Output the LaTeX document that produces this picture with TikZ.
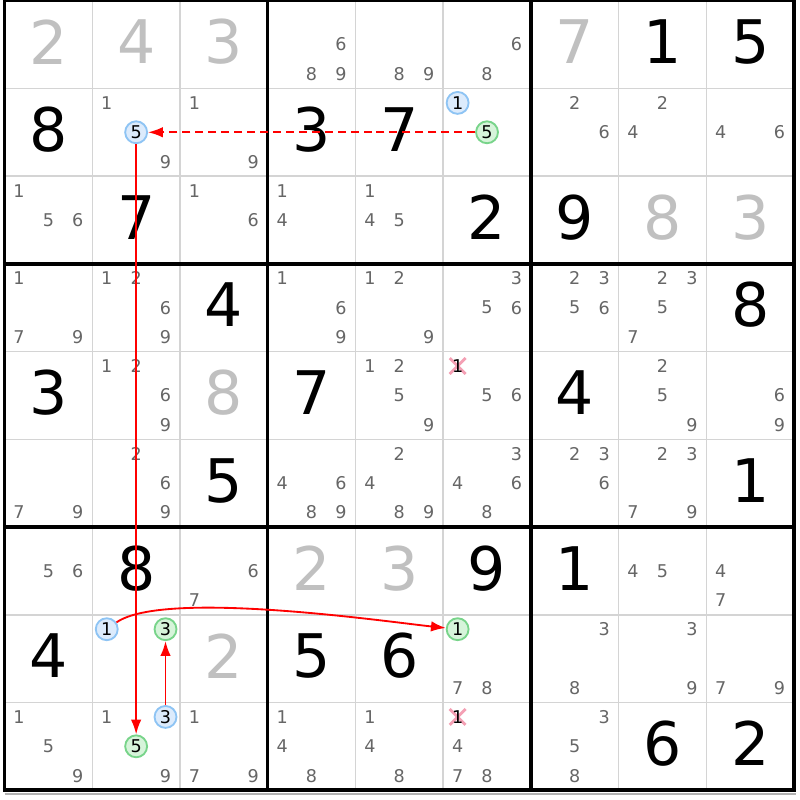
\documentclass[tikz,border=0pt]{standalone}
\usepackage{fontspec}
\setmainfont{DejaVu Sans}
\usepackage{xcolor}
\usepackage{tikz}
\usetikzlibrary{arrows}
\usetikzlibrary{arrows.meta}
\usetikzlibrary{shapes.misc}

\definecolor{candgray}{HTML}{666666}
\definecolor{cluegray}{HTML}{C0C0C0}
\definecolor{gridgray}{HTML}{D4D4D4}
\definecolor{bluefill}{HTML}{DCEBFC}
\definecolor{bluedraw}{HTML}{8EC4F4}
\definecolor{greenfill}{HTML}{D6F4DA}
\definecolor{greendraw}{HTML}{78D48A}
\definecolor{elimpink}{HTML}{F4A0B4}
\definecolor{linkred}{HTML}{FF0000}

\begin{document}
\begin{tikzpicture}
[
	cand/.style = {inner sep = 0cm, text = candgray, font = \fontsize{5.7}{6}\selectfont},
	solved/.style = {inner sep = 0cm, text = black, font = \fontsize{19.5}{20}\selectfont, yshift = 0.03cm},
	given/.style = {solved, text = cluegray},
	bluecand/.style = {circle, draw = bluedraw, fill = bluefill, line width = 0.6pt, minimum size = 0.25cm, inner sep = 0cm, text = black, font = \fontsize{5.7}{6}\selectfont},
	greencand/.style = {bluecand, draw = greendraw, fill = greenfill},
	gone/.style = {cross out, draw = elimpink, line width = 0.9pt, minimum size = 0.15cm, inner sep = 0cm},
	link/.style = {-{Latex[length = 4.8pt, width = 3.4pt]}, draw = linkred, line width = 0.6pt},
	minor/.style = {draw = gridgray, line width = 0.5pt},
	major/.style = {draw = black, line width = 1.1pt},
]

	% page
	\useasboundingbox [fill = white] (-0.052,-0.112) rectangle (9.068,9.008);

	% candidate spots, p<row><col><digit>
	\foreach \r in {1,...,9}
	\foreach \c in {1,...,9}
	\foreach \n in {1,...,9} {
		\pgfmathsetmacro\dx{(mod(\n-1,3)-1)*0.335}
		\pgfmathsetmacro\dy{(int((\n-1)/3)-1)*0.335}
		\coordinate (p\r\c\n) at ({\c-0.5+\dx},{9.5-\r-\dy});
	}

	% grid
	\foreach \i in {1,2,4,5,7,8} {
		\draw [minor] (\i,0) -- (\i,9);
		\draw [minor] (0,\i) -- (9,\i);
	}
	\draw [gray!60, line width = 0.6pt] (0,-0.04) -- (9.02,-0.04);
	\foreach \i in {0,3,6,9} {
		\draw [major] (\i,-0.019) -- (\i,9.019);
		\draw [major] (-0.019,\i) -- (9.019,\i);
	}

	% solved cells
	\foreach \r/\c/\d in {1/8/1, 1/9/5, 2/1/8, 2/4/3, 2/5/7, 3/2/7, 3/6/2, 3/7/9,
		4/3/4, 4/9/8, 5/1/3, 5/4/7, 5/7/4, 6/3/5, 6/9/1, 7/2/8, 7/6/9, 7/7/1,
		8/1/4, 8/4/5, 8/5/6, 9/8/6, 9/9/2}
		\node (s\r\c) [solved] at (p\r\c5) {\d};
	%
	\foreach \r/\c/\d in {1/1/2, 1/2/4, 1/3/3, 1/7/7, 3/8/8, 3/9/3, 5/3/8,
		7/4/2, 7/5/3, 8/3/2}
		\node (s\r\c) [given] at (p\r\c5) {\d};

	% pencil marks
	\foreach \r/\c/\cands in {1/4/{6,8,9}, 1/5/{8,9}, 1/6/{6,8},
		2/2/{1,9}, 2/3/{1,9}, 2/7/{2,6}, 2/8/{2,4}, 2/9/{4,6},
		3/1/{1,5,6}, 3/3/{1,6}, 3/4/{1,4}, 3/5/{1,4,5},
		4/1/{1,7,9}, 4/2/{1,2,6,9}, 4/4/{1,6,9}, 4/5/{1,2,9}, 4/6/{3,5,6}, 4/7/{2,3,5,6}, 4/8/{2,3,5,7},
		5/2/{1,2,6,9}, 5/5/{1,2,5,9}, 5/6/{5,6}, 5/8/{2,5,9}, 5/9/{6,9},
		6/1/{7,9}, 6/2/{2,6,9}, 6/4/{4,6,8,9}, 6/5/{2,4,8,9}, 6/6/{3,4,6,8}, 6/7/{2,3,6}, 6/8/{2,3,7,9},
		7/1/{5,6}, 7/3/{6,7}, 7/8/{4,5}, 7/9/{4,7},
		8/6/{7,8}, 8/7/{3,8}, 8/8/{3,9}, 8/9/{7,9},
		9/1/{1,5,9}, 9/2/{1,9}, 9/3/{1,7,9}, 9/4/{1,4,8}, 9/5/{1,4,8}, 9/6/{4,7,8}, 9/7/{3,5,8}}
		\foreach \n in \cands
			\node (n\r\c\n) [cand] at (p\r\c\n) {\n};

	% eliminations
	\node (x561) [gone] at (p561) {};
	\node (n561) [cand, text = black] at (p561) {1};
	\node (x961) [gone] at (p961) {};
	\node (n961) [cand, text = black] at (p961) {1};

	% chain
	\node (h225) [bluecand] at (p225) {5};
	\node (h261) [bluecand] at (p261) {1};
	\node (h265) [greencand] at (p265) {5};
	\node (h821) [bluecand] at (p821) {1};
	\node (h823) [greencand] at (p823) {3};
	\node (h861) [greencand] at (p861) {1};
	\node (h923) [bluecand] at (p923) {3};
	\node (h925) [greencand] at (p925) {5};

	\draw [link, dash pattern = on 2.6pt off 1.6pt] (h265) -- (h225);
	\draw [link] (h225) -- (h925);
	\draw [link] (h923) -- (h823);
	\draw [link, out = 35, in = 174, looseness = 0.45] (h821) to (h861);

\end{tikzpicture}
\end{document}
